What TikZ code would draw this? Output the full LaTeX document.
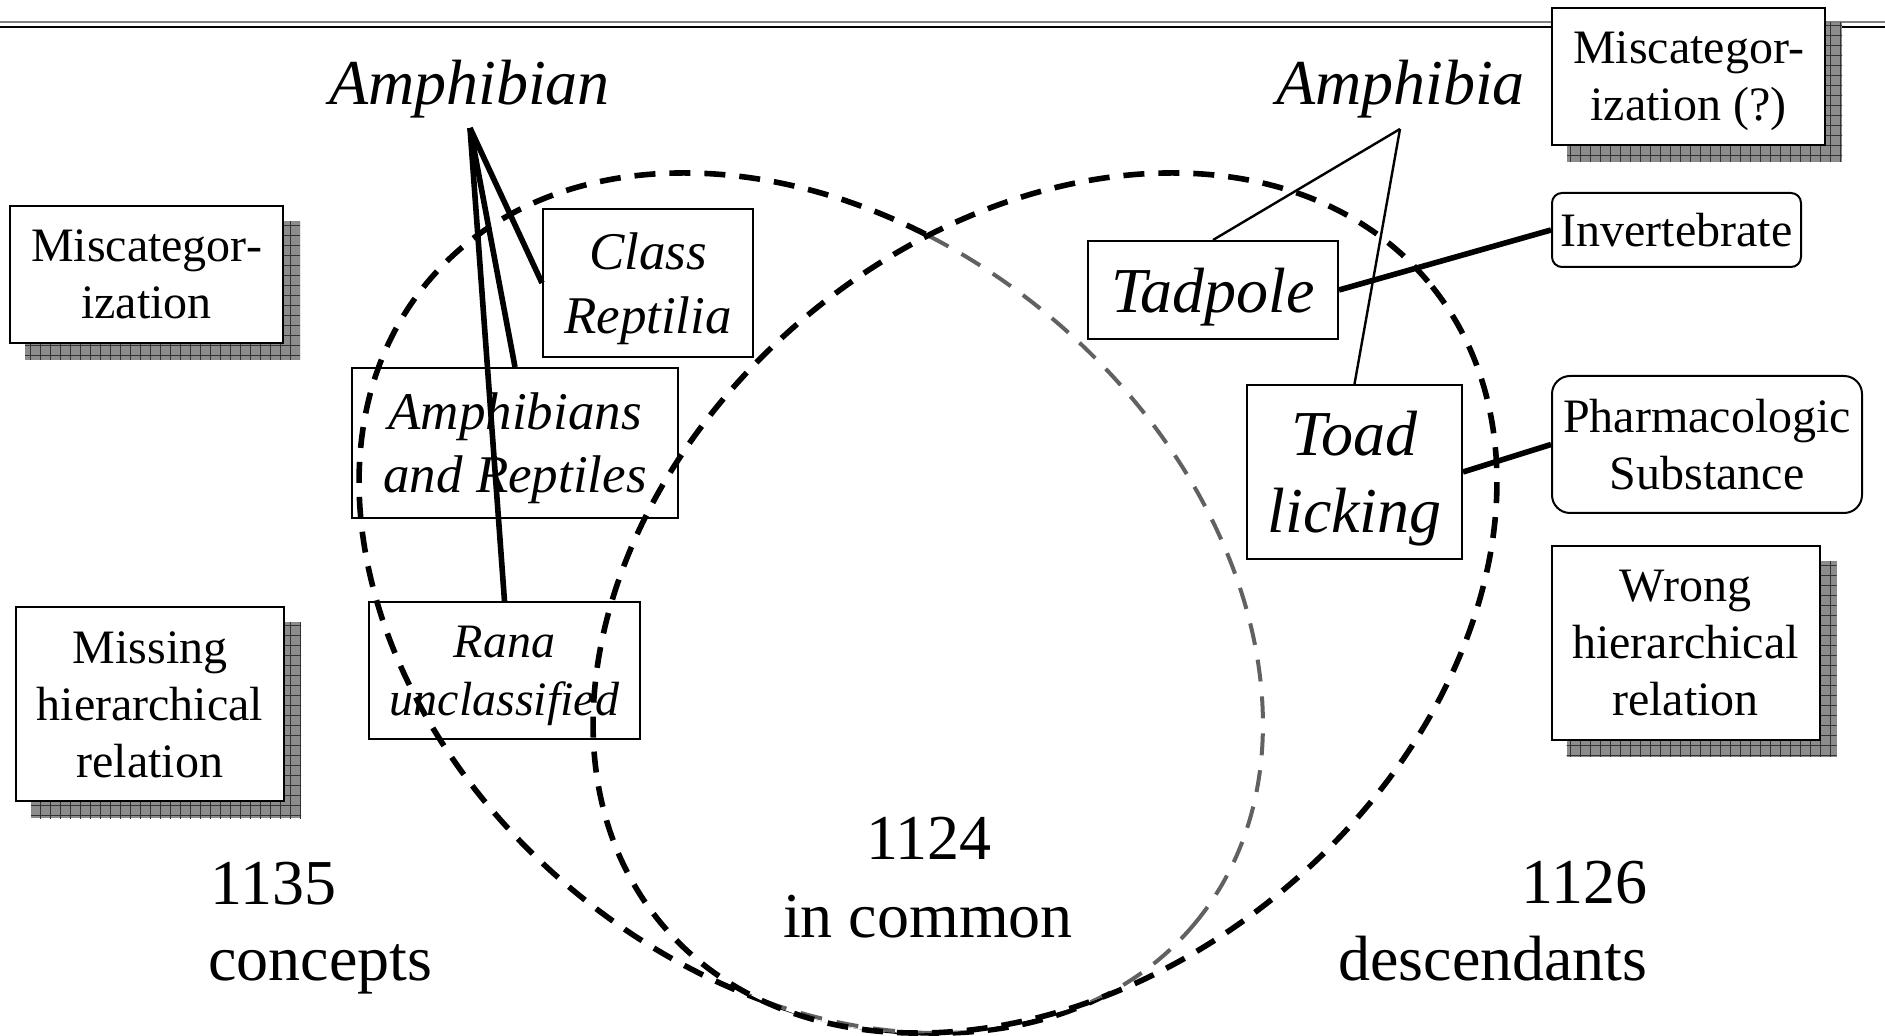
\documentclass[tikz,border=0pt]{standalone}
\usepackage{fontspec}
\setmainfont{Liberation Serif}
\usetikzlibrary{backgrounds,patterns.meta}
\tikzset{
  shbox/.style={draw, line width=1pt, fill=white, align=center, inner sep=0pt, text depth=0pt, font=\fontsize{24}{28.5}\selectfont},
  rbox/.style={draw, line width=1pt, fill=white, rounded corners=5pt, align=center, inner sep=0pt, text depth=0pt, font=\fontsize{24}{28.5}\selectfont},
  itbox/.style={draw, line width=1pt, align=center, inner sep=0pt, text depth=0pt},
  biglabel/.style={inner sep=0pt, font=\fontsize{32}{38.4}\selectfont},
  thickedge/.style={line width=2.8pt},
  thinedge/.style={line width=1.2pt},
  blackset/.style={line width=2.8pt, dash pattern=on 10.5pt off 7pt},
  greyset/.style={line width=2pt, black!62, dash pattern=on 11pt off 7.5pt},
  eraser/.style={white, line width=4.5pt},
  ruleline/.style={line width=0.85pt},
}
\newcommand{\dropshade}[1]{%
  \fill[black!45] ([xshift=8pt,yshift=-8pt]#1.south west) rectangle ([xshift=8pt,yshift=-8pt]#1.north east);
  \fill[pattern={Hatch[distance=5pt,angle=0,line width=0.5pt]}, pattern color=black!80]
    ([xshift=8pt,yshift=-8pt]#1.south west) rectangle ([xshift=8pt,yshift=-8pt]#1.north east);
}
\begin{document}
\begin{tikzpicture}[x=0.5pt,y=-0.5pt]
\useasboundingbox (0,0) rectangle (1885,1036);

% ---- boxes with drop shadows ----
\node[shbox, minimum width=136.5pt, minimum height=68.5pt] (misL) at (146.5,274.5) {Miscategor-\\ization};
\node[shbox, minimum width=134pt, minimum height=97pt] (missH) at (150,704.5) {Missing\\hierarchical\\relation};
\node[shbox, minimum width=136.5pt, minimum height=68.5pt] (misR) at (1688.5,76.5) {Miscategor-\\ization (?)};
\node[shbox, minimum width=134pt, minimum height=97pt] (wrong) at (1685.5,643) {Wrong\\hierarchical\\relation};

% ---- rounded boxes ----
\node[rbox, minimum width=124.5pt, minimum height=37pt] (invert) at (1676.5,230) {Invertebrate};
\node[rbox, rounded corners=9pt, minimum width=155pt, minimum height=68.5pt] (pharm) at (1707,444.5) {Pharmacologic\\Substance};

\begin{pgfonlayer}{background}
  \fill[white] (0,0) rectangle (1885,1036);
  \coordinate (ruleA) at (0,22);
  \coordinate (ruleB) at (1885,22);
  \coordinate (ruleC) at (0,27);
  \coordinate (ruleD) at (1885,27);
  \draw[ruleline, black!50] (ruleA) -- (ruleB);
  \draw[ruleline] (ruleC) -- (ruleD);
  \dropshade{misL}
  \dropshade{missH}
  \dropshade{misR}
  \dropshade{wrong}
\end{pgfonlayer}

% ---- the two sets ----
\draw[blackset] (811,603) circle [x radius=250pt, y radius=186.5pt, rotate=-40];
\begin{scope}
  \clip (1045,603) circle [x radius=250pt, y radius=186.5pt, rotate=40];
  \draw[eraser] (811,603) circle [x radius=250pt, y radius=186.5pt, rotate=-40];
  \draw[greyset] (811,603) circle [x radius=250pt, y radius=186.5pt, rotate=-40];
\end{scope}
\draw[blackset] (1045,603) circle [x radius=250pt, y radius=186.5pt, rotate=40];

% ---- italic concept boxes ----
\node[itbox, minimum width=105pt, minimum height=74pt, font=\fontsize{26.5}{32}\selectfont\itshape] (classR) at (648,283) {Class\\Reptilia};
\node[itbox, minimum width=163pt, minimum height=75pt, font=\fontsize{26.5}{31.5}\selectfont\itshape] (amphR) at (515,443) {Amphibians\\and Reptiles};
\node[itbox, minimum width=135.5pt, minimum height=68.5pt, font=\fontsize{24}{29}\selectfont\itshape] (rana) at (504.5,670.5) {Rana\\unclassified};
\node[itbox, minimum width=125pt, minimum height=49pt, font=\fontsize{32}{38.5}\selectfont\itshape] (tad) at (1213,290) {Tadpole};
\node[itbox, minimum width=107.5pt, minimum height=87pt, font=\fontsize{32}{38.5}\selectfont\itshape] (toad) at (1354.5,472) {Toad\\licking};

% ---- titles ----
\node[biglabel, font=\fontsize{32}{38.4}\selectfont\itshape, anchor=base] (amphibian) at (469.5,105) {Amphibian};
\node[biglabel, font=\fontsize{32}{38.4}\selectfont\itshape, anchor=base] (amphibia) at (1400.5,105) {Amphibia};
\coordinate (apL) at (470,128);
\coordinate (apR) at (1400,129);

% ---- counts ----
\node[biglabel, anchor=base west] (n1135) at (210,904) {1135};
\node[biglabel, anchor=base west] (nconcepts) at (208,980) {concepts};
\node[biglabel, anchor=base] (n1124) at (929,860) {1124};
\node[biglabel, anchor=base] (ncommon) at (928,937) {in common};
\node[biglabel, anchor=base east] (n1126) at (1648,903) {1126};
\node[biglabel, anchor=base east] (ndesc) at (1648,980) {descendants};

% ---- connectors ----
\draw[thickedge] (apL) -- (classR.west);
\draw[thickedge] (apL) -- (amphR.north);
\draw[thickedge] (apL) -- (rana.north);
\draw[thinedge] (apR) -- (tad.north);
\draw[thinedge] (apR) -- (toad.north);
\draw[thickedge] (tad.east) -- (invert.west);
\draw[thickedge] (toad.east) -- (pharm.west);
\end{tikzpicture}
\end{document}
